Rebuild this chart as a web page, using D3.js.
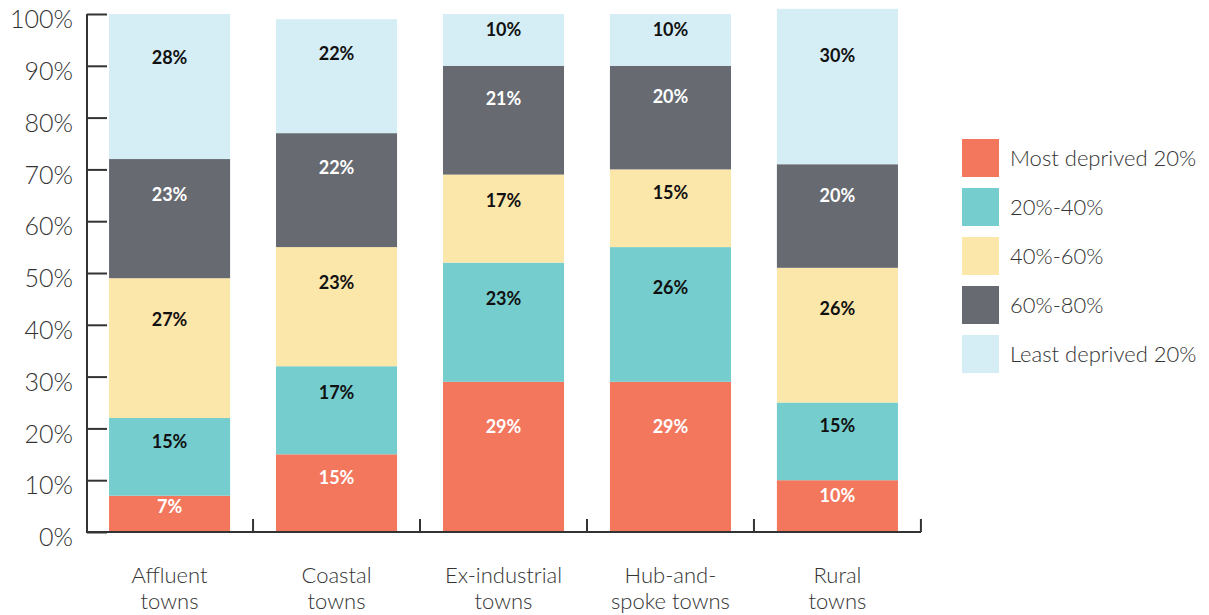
<!DOCTYPE html>
<html>
<head>
<meta charset="utf-8">
<script src="https://cdn.jsdelivr.net/npm/d3@7"></script>
<style>
  body { margin: 0; background: #fff; }
  text { font-family: Lato, "Open Sans", sans-serif; }
</style>
</head>
<body>
<div id="chart"></div>
<script>
// town types (two-line labels)
const categories = ["Affluent towns", "Coastal towns", "Ex-industrial towns", "Hub-and-spoke towns", "Rural towns"];
const categoryLines = [["Affluent", "towns"], ["Coastal", "towns"], ["Ex-industrial", "towns"], ["Hub-and-", "spoke towns"], ["Rural", "towns"]];

// deprivation quintiles, bottom to top
const seriesNames = ["Most deprived 20%", "20%-40%", "40%-60%", "60%-80%", "Least deprived 20%"];
const mostDeprived = [7, 15, 29, 29, 10];
const q20to40 = [15, 17, 23, 26, 15];
const q40to60 = [27, 23, 17, 15, 26];
const q60to80 = [23, 22, 21, 20, 20];
const leastDeprived = [28, 22, 10, 10, 30];

const yTicks = [0, 10, 20, 30, 40, 50, 60, 70, 80, 90, 100];

const colors = ["#f3775d", "#76cdce", "#fce7ab", "#676a71", "#d5edf4"];
const labelColors = ["#fff", "#111", "#111", "#fff", "#111"];

const seriesValues = [mostDeprived, q20to40, q40to60, q60to80, leastDeprived];

// build rows for d3.stack
const rows = categories.map((c, i) => {
  const r = { category: c };
  seriesNames.forEach((s, j) => { r[s] = seriesValues[j][i]; });
  return r;
});

const width = 1209, height = 615;
const svg = d3.select("#chart").append("svg")
  .attr("width", width)
  .attr("height", height);

const x = d3.scaleBand()
  .domain(categories)
  .range([86, 921])
  .paddingInner(0.275)
  .paddingOuter(0.138);

const y = d3.scaleLinear()
  .domain([0, 100])
  .range([532, 14]);

const stacked = d3.stack().keys(seriesNames)(rows);

// bars
const layers = svg.append("g").selectAll("g")
  .data(stacked)
  .join("g")
  .attr("fill", (d, i) => colors[i]);

layers.selectAll("rect")
  .data(d => d)
  .join("rect")
  .attr("x", d => x(d.data.category))
  .attr("width", x.bandwidth())
  .attr("y", d => y(d[1]))
  .attr("height", d => y(d[0]) - y(d[1]));

// value labels, placed in the upper part of each segment
stacked.forEach((layer, i) => {
  svg.append("g").selectAll("text")
    .data(layer)
    .join("text")
    .attr("x", d => x(d.data.category) + x.bandwidth() / 2)
    .attr("y", d => y(d[1]) + (y(d[0]) - y(d[1])) * 0.3)
    .attr("dy", "0.35em")
    .attr("text-anchor", "middle")
    .attr("fill", labelColors[i])
    .style("font-size", "18px")
    .style("font-weight", 700)
    .text(d => (d[1] - d[0]) + "%");
});

// y axis
const yAxisG = svg.append("g")
  .attr("transform", "translate(87,0)")
  .call(d3.axisRight(y).tickValues(yTicks).tickSize(20).tickFormat(d => d + "%"));
yAxisG.select(".domain").attr("stroke", "#333").attr("stroke-width", 2).attr("d", `M0,${y(100)}V${y(0)}`);
yAxisG.selectAll(".tick line").attr("stroke", "#333").attr("stroke-width", 2);
yAxisG.selectAll(".tick text")
  .attr("x", -14)
  .attr("dy", "0.55em")
  .attr("text-anchor", "end")
  .attr("fill", "#333")
  .style("font-size", "25px")
  .style("font-weight", 300);

// x axis baseline with ticks between categories
const xAxisG = svg.append("g");
xAxisG.append("line")
  .attr("x1", x.range()[0]).attr("x2", x.range()[1])
  .attr("y1", y(0)).attr("y2", y(0))
  .attr("stroke", "#333").attr("stroke-width", 2);
const sepX = d => x(d) + x.bandwidth() + (x.step() - x.bandwidth()) / 2;
xAxisG.selectAll(".sep")
  .data(categories)
  .join("line")
  .attr("class", "sep")
  .attr("x1", sepX).attr("x2", sepX)
  .attr("y1", y(0)).attr("y2", y(0) - 13)
  .attr("stroke", "#333").attr("stroke-width", 2);

// category labels
const catG = svg.append("g").selectAll("text")
  .data(categories)
  .join("text")
  .attr("x", d => x(d) + x.bandwidth() / 2)
  .attr("y", 583)
  .attr("text-anchor", "middle")
  .attr("fill", "#333")
  .style("font-size", "22px")
  .style("font-weight", 300);
catG.each(function (d, i) {
  categoryLines[i].forEach((line, k) => {
    d3.select(this).append("tspan")
      .attr("x", x(d) + x.bandwidth() / 2)
      .attr("dy", k === 0 ? 0 : 26)
      .text(line);
  });
});

// legend
const legend = svg.append("g").attr("transform", "translate(962,139)");
const items = legend.selectAll("g")
  .data(seriesNames)
  .join("g")
  .attr("transform", (d, i) => `translate(0,${i * 49})`);
items.append("rect")
  .attr("width", 37).attr("height", 38)
  .attr("fill", (d, i) => colors[i]);
items.append("text")
  .attr("x", 48).attr("y", 19).attr("dy", "0.35em")
  .attr("fill", "#333")
  .style("font-size", "22px")
  .style("font-weight", 300)
  .text(d => d);
</script>
</body>
</html>
